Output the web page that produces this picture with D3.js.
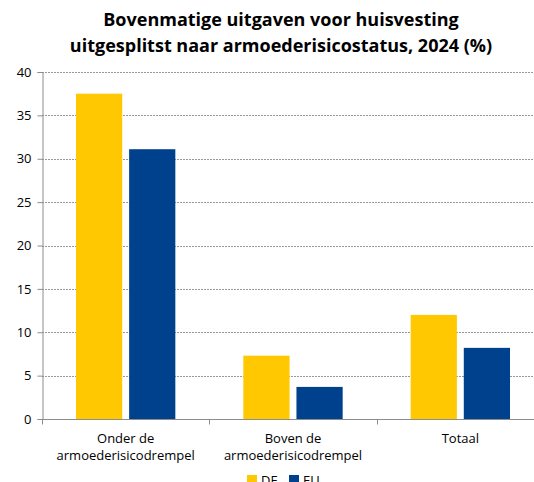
<!DOCTYPE html>
<html><head><meta charset="utf-8">
<script src="https://cdn.jsdelivr.net/npm/d3@7"></script>
<style>body{margin:0;background:#fff;overflow:hidden;} svg{display:block;font-family:"Open Sans",sans-serif;}</style>
</head><body>
<svg id="c" width="534" height="482"></svg>
<script>
const categories = [["Onder de","armoederisicodrempel"],["Boven de","armoederisicodrempel"],["Totaal"]];
const seriesNames = ["DE","EU"];
const seriesColors = ["#FFC800","#00418E"];
const deValues = [37.5, 7.3, 12.0];
const euValues = [31.1, 3.7, 8.2];
const yTicks = [0,5,10,15,20,25,30,35,40];
const titleLines = ["Bovenmatige uitgaven voor huisvesting","uitgesplitst naar armoederisicostatus, 2024 (%)"];

(function(){
const svg = d3.select("#c");
const pL = 42, pR = 544, pT = 72, pB = 419;
const x0 = d3.scaleBand().domain(d3.range(categories.length)).range([pL, pR]).paddingInner(0).paddingOuter(0);
const x1 = d3.scaleBand().domain(seriesNames).range([34, x0.bandwidth()-34]).paddingInner(0.13);
const y = d3.scaleLinear().domain([0,40]).range([pB, pT]);

// gridlines
svg.append("g").selectAll("line").data(yTicks.filter(d=>d>0)).join("line")
  .attr("x1", pL).attr("x2", pR).attr("y1", d=>Math.round(y(d))+0.5).attr("y2", d=>Math.round(y(d))+0.5)
  .attr("stroke","#999").attr("stroke-width",1).attr("stroke-dasharray","2,1");

// bars
const g = svg.append("g");
categories.forEach((c,i)=>{
  g.selectAll(null).data([deValues[i], euValues[i]]).join("rect")
    .attr("x",(v,j)=>x0(i)+x1(seriesNames[j]))
    .attr("width",x1.bandwidth())
    .attr("y",v=>y(v)).attr("height",v=>y(0)-y(v))
    .attr("fill",(v,j)=>seriesColors[j]);
});

// y axis
const ya = svg.append("g").attr("transform",`translate(${pL+0.5},0)`)
  .call(d3.axisLeft(y).tickValues(yTicks).tickSize(5).tickPadding(6));
ya.select(".domain").attr("stroke","#8c8c8c");
ya.selectAll(".tick line").attr("stroke","#8c8c8c");
ya.selectAll(".tick text").attr("font-size",13).attr("fill","#000").attr("font-family","Open Sans");

// x axis
const xa = svg.append("g").attr("transform",`translate(0,${pB+0.5})`);
xa.append("line").attr("x1",pL).attr("x2",pR).attr("stroke","#8c8c8c");
xa.selectAll(".tk").data(d3.range(categories.length+1)).join("line")
  .attr("x1",i=>Math.round(pL+i*x0.bandwidth())+0.5).attr("x2",i=>Math.round(pL+i*x0.bandwidth())+0.5)
  .attr("y1",0).attr("y2",5).attr("stroke","#8c8c8c");
categories.forEach((lines,i)=>{
  const t = xa.append("text").attr("text-anchor","middle").attr("font-size",13).attr("fill","#000").attr("y",23);
  lines.forEach((l,k)=>t.append("tspan").attr("x",x0(i)+x0.bandwidth()/2).attr("dy",k?17:0).text(l));
});

// title
titleLines.forEach((l,k)=>svg.append("text").attr("x",281).attr("y",26+k*26)
  .attr("text-anchor","middle").attr("font-weight","bold").attr("font-size",18).attr("fill","#000").text(l));

// legend
const lx = [247, 289];
seriesNames.forEach((s,j)=>{
  svg.append("rect").attr("x",lx[j]).attr("y",475).attr("width",10).attr("height",10).attr("fill",seriesColors[j]);
  svg.append("text").attr("x",lx[j]+14).attr("y",485).attr("font-size",13).attr("fill","#000").text(s);
});
})();
</script>
</body></html>
